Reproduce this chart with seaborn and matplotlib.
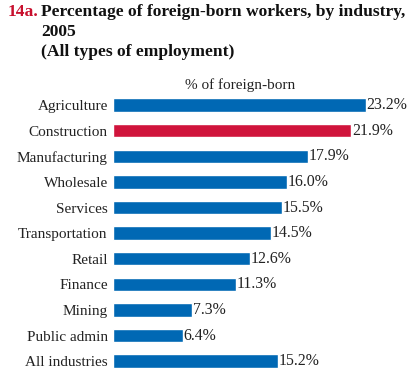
import matplotlib
matplotlib.use("Agg")
import matplotlib.pyplot as plt
import seaborn as sns
import pandas as pd

industries = ["Agriculture", "Construction", "Manufacturing", "Wholesale", "Services",
              "Transportation", "Retail", "Finance", "Mining", "Public admin", "All industries"]
values = [23.2, 21.9, 17.9, 16.0, 15.5, 14.5, 12.6, 11.3, 7.3, 6.4, 15.2]
highlight = "Construction"

sns.set_theme(style="white")
plt.rcParams['font.family'] = ['Liberation Serif', 'DejaVu Serif']

blue = "#0068B4"
red = "#D0143C"
df = pd.DataFrame({"industry": industries, "value": values})
palette = {k: (red if k == highlight else blue) for k in industries}

fig = plt.figure(figsize=(4.14, 3.80), dpi=100)
ax = fig.add_axes([0.273, 0.016, 0.71, 0.741])
sns.barplot(data=df, x="value", y="industry", hue="industry", palette=palette,
            order=industries, legend=False, width=0.52, saturation=1, ax=ax)
ax.set_xlim(0, 27)
ax.set_ylim(10.5, -0.5)
for i, v in enumerate(values):
    ax.text(v + 0.05, i, f"{v:.1f}%", va="center", ha="left", fontsize=11.4, color="#222222")
ax.set_xlabel("")
ax.set_ylabel("")
ax.set_xticks([])
ax.tick_params(axis="y", length=0, pad=3.8, labelsize=11, labelcolor="#222222")
for s in ax.spines.values():
    s.set_visible(False)

fig.text(8/414, 1 - 12/380, "14a.", color="#C8102E", fontsize=12.6, fontweight="bold", va="center", ha="left")
fig.text(41/414, 1 - 12/380, "Percentage of foreign-born workers, by industry,", color="#111111",
         fontsize=12.6, fontweight="bold", va="center", ha="left")
fig.text(41/414, 1 - 32/380, "2005", color="#111111", fontsize=12.6, fontweight="bold", va="center", ha="left")
fig.text(41/414, 1 - 52/380, "(All types of employment)", color="#111111", fontsize=12.6,
         fontweight="bold", va="center", ha="left")
fig.text(240/414, 1 - 85/380, "% of foreign-born", color="#222222", fontsize=11, va="center", ha="center")

fig.savefig("out.png", dpi=100)
